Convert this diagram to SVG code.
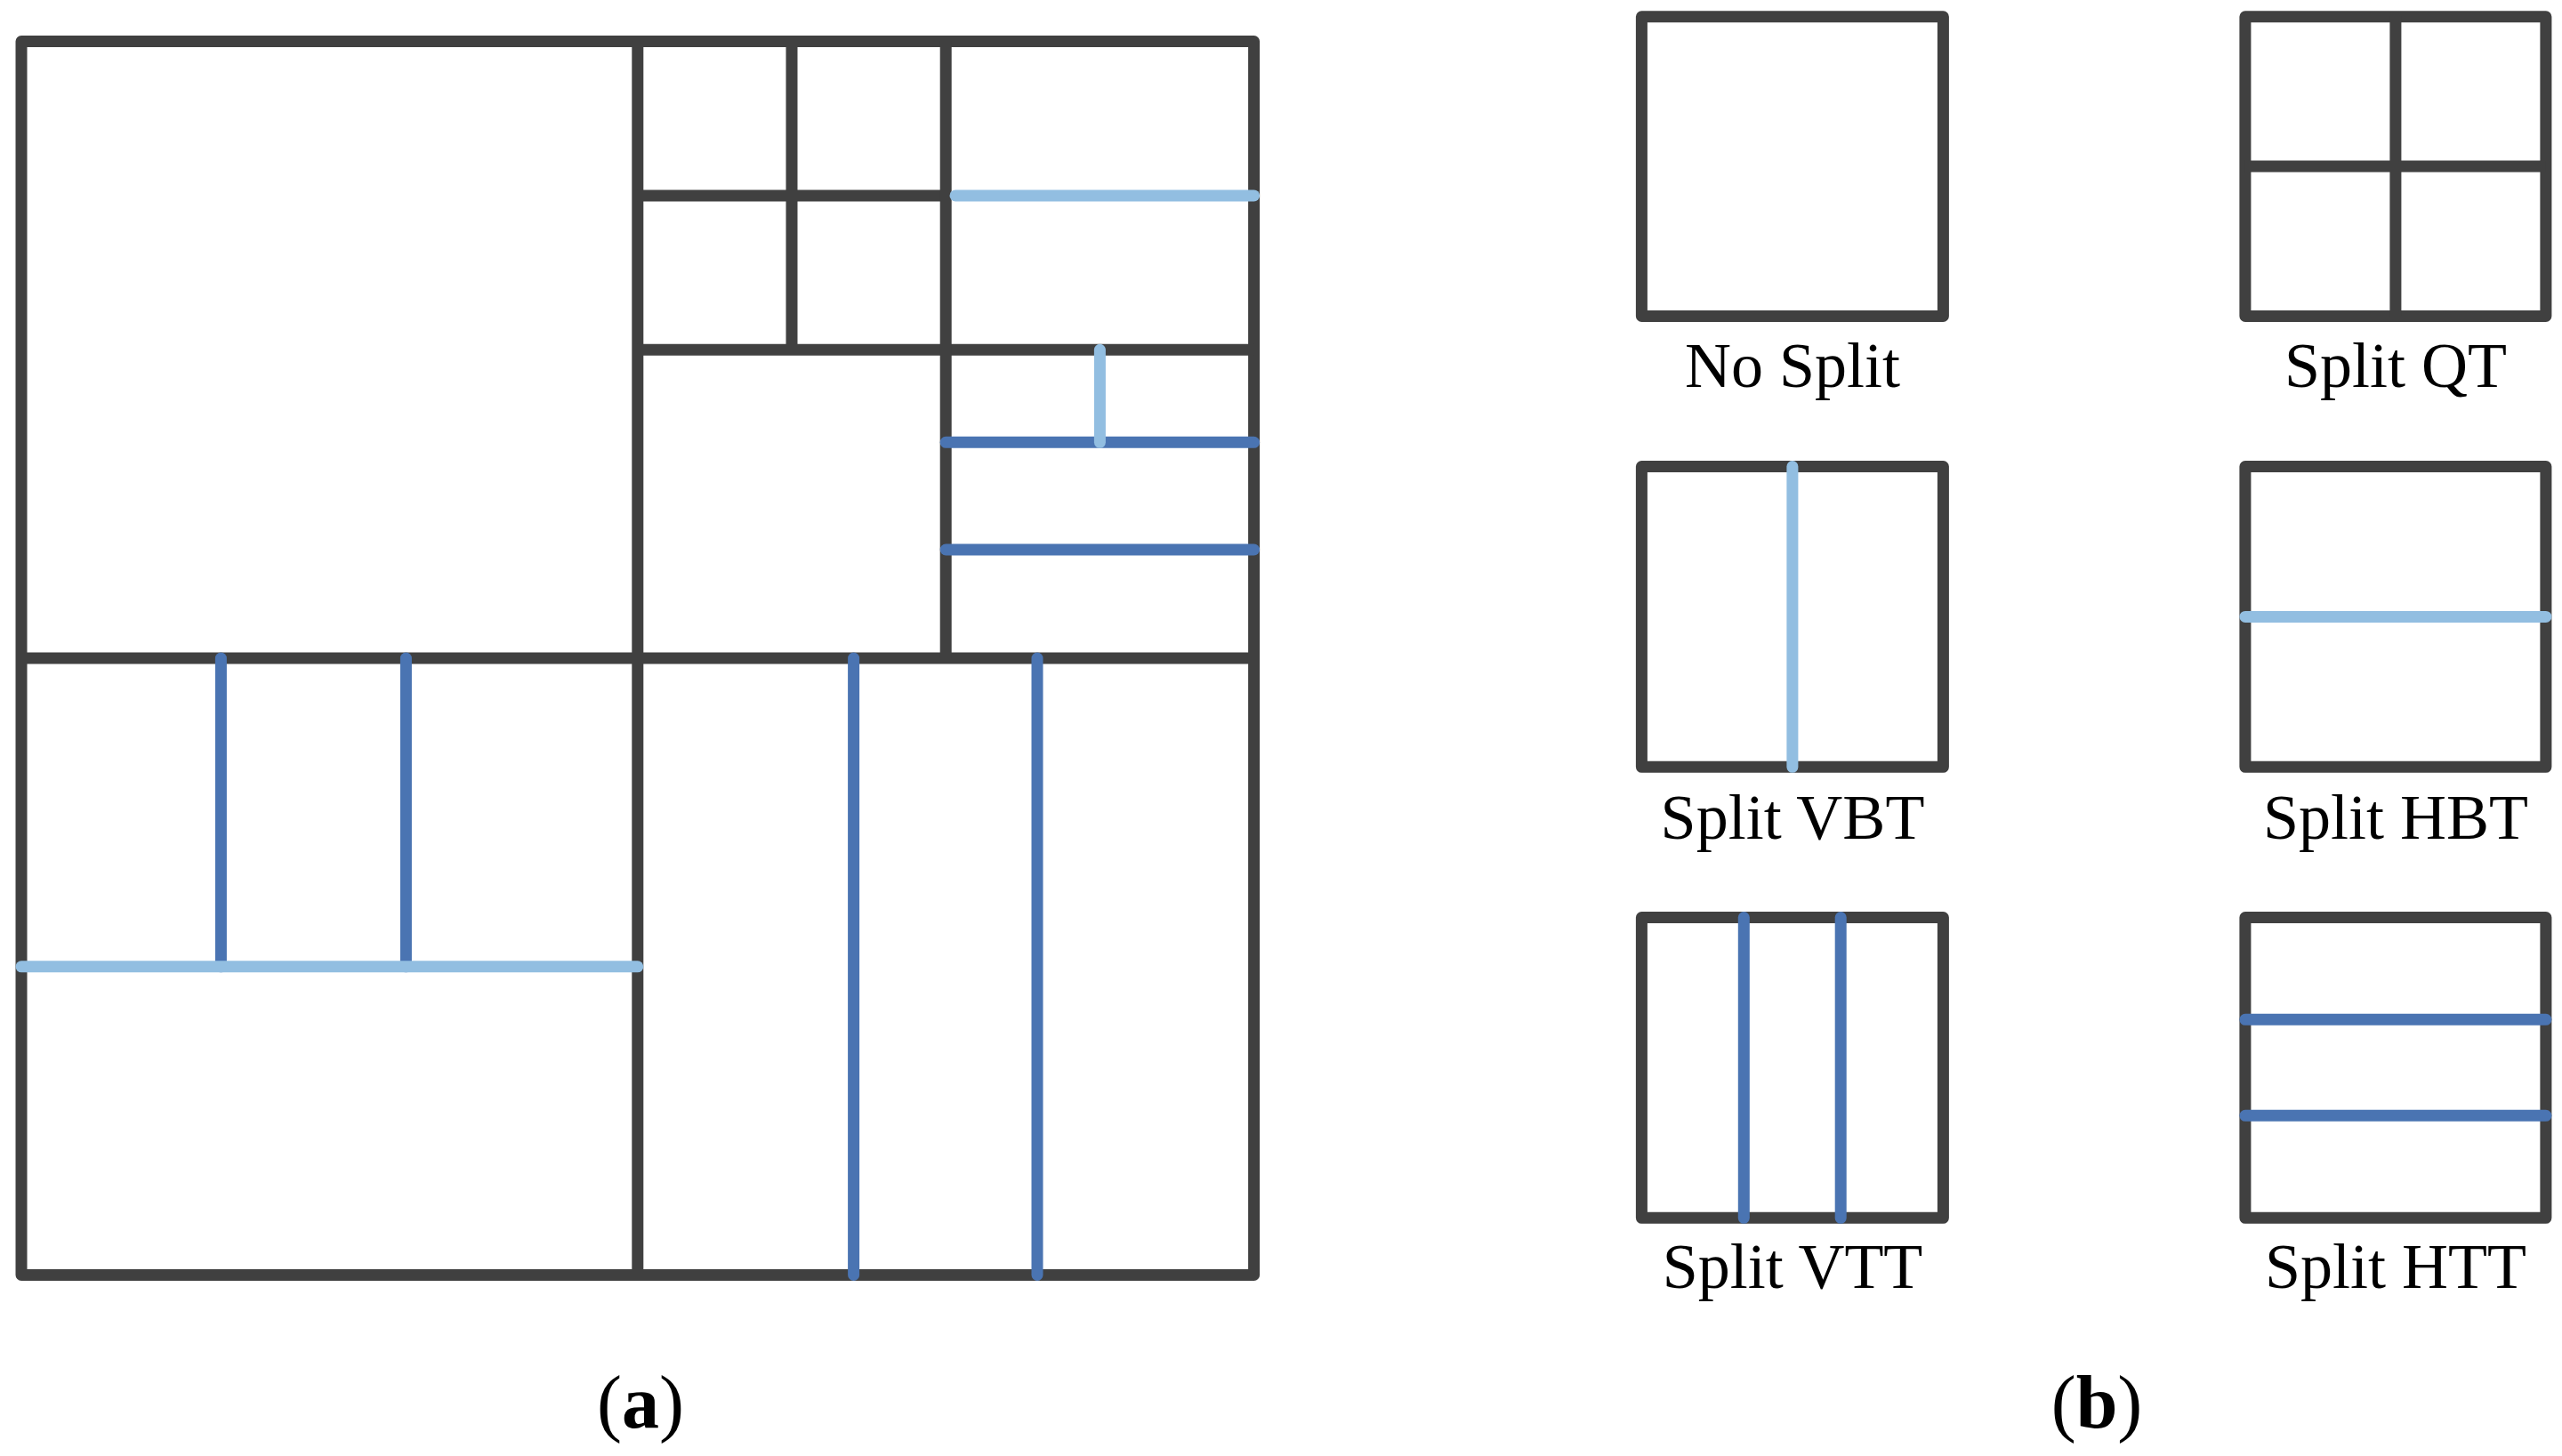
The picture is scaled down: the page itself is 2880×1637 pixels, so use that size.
<svg xmlns="http://www.w3.org/2000/svg" width="2880" height="1637" viewBox="0 0 2880 1637">
<style>
.frame{fill:none;stroke:#404040;stroke-width:13;stroke-linejoin:round}
.dk{stroke:#404040;stroke-width:13;fill:none}
.lb{stroke:#92BEE1;stroke-width:13;stroke-linecap:round;fill:none}
.db{stroke:#4A74B2;stroke-width:13;stroke-linecap:round;fill:none}
.lbl{font-family:"Liberation Serif","Times New Roman",serif;font-size:72px;fill:#000;text-anchor:middle}
.cap{font-family:"Liberation Serif","Times New Roman",serif;font-size:84px;fill:#000;text-anchor:middle}
</style>
<rect width="2880" height="1637" fill="#fff"/>
<g id="panel-a">
  <rect class="frame" x="24" y="46.5" width="1385.6" height="1387"/>
  <g id="a-dark">
    <line class="dk" x1="716.8" y1="46.5" x2="716.8" y2="1433.5"/>
    <line class="dk" x1="24" y1="740" x2="1409.6" y2="740"/>
    <line class="dk" x1="890" y1="46.5" x2="890" y2="393.3"/>
    <line class="dk" x1="716.8" y1="219.9" x2="1063.2" y2="219.9"/>
    <line class="dk" x1="716.8" y1="393.3" x2="1409.6" y2="393.3"/>
    <line class="dk" x1="1063.2" y1="46.5" x2="1063.2" y2="740"/>
  </g>
  <g id="a-blue">
    <line class="lb" x1="1074" y1="219.9" x2="1409.6" y2="219.9"/>
    <line class="db" x1="1063.2" y1="497.3" x2="1409.6" y2="497.3"/>
    <line class="db" x1="1063.2" y1="618" x2="1409.6" y2="618"/>
    <line class="lb" x1="1236.4" y1="393.3" x2="1236.4" y2="497.3"/>
    <line class="db" x1="248.4" y1="740" x2="248.4" y2="1086.8"/>
    <line class="db" x1="456.4" y1="740" x2="456.4" y2="1086.8"/>
    <line class="lb" x1="24" y1="1086.8" x2="716.8" y2="1086.8"/>
    <line class="db" x1="959.6" y1="740" x2="959.6" y2="1433.5"/>
    <line class="db" x1="1166" y1="740" x2="1166" y2="1433.5"/>
  </g>
  <text class="cap" x="720" y="1605">(<tspan font-weight="bold">a</tspan>)</text>
</g>
<g id="panel-b">
  <g id="no-split">
    <rect class="frame" x="1845.4" y="18.8" width="339" height="336.6"/>
    <text class="lbl" x="2015" y="435">No Split</text>
  </g>
  <g id="split-qt">
    <rect class="frame" x="2523.9" y="18.8" width="338" height="336.6"/>
    <line class="dk" x1="2692.9" y1="18.8" x2="2692.9" y2="355.4"/>
    <line class="dk" x1="2523.9" y1="187.1" x2="2861.9" y2="187.1"/>
    <text class="lbl" x="2693" y="435">Split QT</text>
  </g>
  <g id="split-vbt">
    <rect class="frame" x="1845.4" y="524.5" width="339" height="337.8"/>
    <line class="lb" x1="2014.9" y1="524.5" x2="2014.9" y2="862.3"/>
    <text class="lbl" x="2015" y="943">Split VBT</text>
  </g>
  <g id="split-hbt">
    <rect class="frame" x="2523.9" y="524.5" width="338" height="337.8"/>
    <line class="lb" x1="2523.9" y1="693.4" x2="2861.9" y2="693.4"/>
    <text class="lbl" x="2693" y="943">Split HBT</text>
  </g>
  <g id="split-vtt">
    <rect class="frame" x="1845.4" y="1031.6" width="339" height="337.7"/>
    <line class="db" x1="1960.3" y1="1031.6" x2="1960.3" y2="1369.3"/>
    <line class="db" x1="2069.2" y1="1031.6" x2="2069.2" y2="1369.3"/>
    <text class="lbl" x="2015" y="1448">Split VTT</text>
  </g>
  <g id="split-htt">
    <rect class="frame" x="2523.9" y="1031.6" width="338" height="337.7"/>
    <line class="db" x1="2523.9" y1="1146.3" x2="2861.9" y2="1146.3"/>
    <line class="db" x1="2523.9" y1="1254.3" x2="2861.9" y2="1254.3"/>
    <text class="lbl" x="2693" y="1448">Split HTT</text>
  </g>
  <text class="cap" x="2357" y="1605">(<tspan font-weight="bold">b</tspan>)</text>
</g>
<g id="connectors"/>
</svg>
